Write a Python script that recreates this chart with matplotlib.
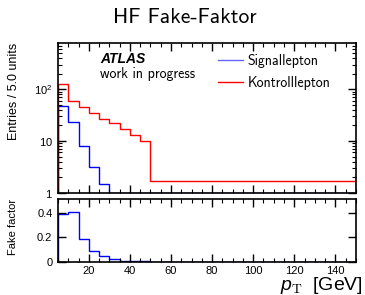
import numpy as np
import matplotlib
matplotlib.use('Agg')
import matplotlib.pyplot as plt  # noqa
import matplotlib.ticker as mticker

plt.rcParams['font.family'] = ['Liberation Sans', 'DejaVu Sans']
plt.rcParams['mathtext.fontset'] = 'custom'
plt.rcParams['mathtext.rm'] = 'cmr10'
plt.rcParams['mathtext.it'] = 'Liberation Sans:italic'
plt.rcParams['mathtext.sf'] = 'Liberation Sans'

COLOR_SIG = 'blue'
COLOR_CTRL = 'red'
SANS_TEX = 'cmss10'

# pT binning, 5 GeV wide bins
bin_edges = np.arange(5, 155, 5)

# entries per bin
signal = [47.5, 23.5, 8.1, 3.1, 1.5] + [0] * 24
control = [127, 60, 45, 35, 27, 22, 17, 13, 10] + [1.66] * 20
fake_factor = [0.39, 0.405, 0.188, 0.085, 0.052, 0.02, 0.008, 0.008, 0.008] + [0] * 20

legend_labels = ['Signallepton', 'Kontrolllepton']
ylog_ticks = [1, 10, 100]
ylog_labels = [r'$\mathsf{1}$', r'$\mathsf{10}$', r'$\mathsf{10}^{\mathsf{2}}$']
ratio_ticks = [0, 0.2, 0.4]
ratio_labels = ['0', '0.2', '0.4']

YMIN, YMAX = 1, 790


def style_axes(ax):
    for sp in ax.spines.values():
        sp.set_linewidth(1.2)
    ax.tick_params(which='both', direction='in', top=True, right=True,
                   labelsize=8, pad=4)
    ax.tick_params(which='major', length=6, width=1)
    ax.tick_params(which='minor', length=3, width=0.8)
    ax.xaxis.set_major_locator(mticker.MultipleLocator(20))
    ax.xaxis.set_minor_locator(mticker.MultipleLocator(5))


fig = plt.figure(figsize=(3.65, 2.95), dpi=100)
ax1 = fig.add_axes([0.159, 0.347, 0.816, 0.507])
ax2 = fig.add_axes([0.159, 0.112, 0.816, 0.213], sharex=ax1)

# upper panel: entries, log scale
ax1.set_yscale('log')
ax1.stairs(np.maximum(signal, YMIN), bin_edges, color=COLOR_SIG, lw=1.0,
           label=legend_labels[0])
ax1.stairs(control, bin_edges, color=COLOR_CTRL, lw=1.0, label=legend_labels[1])
ax1.set_xlim(5, 150)
ax1.set_ylim(YMIN, YMAX)
style_axes(ax1)
ax1.yaxis.set_major_locator(mticker.FixedLocator(ylog_ticks))
ax1.yaxis.set_major_formatter(mticker.FixedFormatter(ylog_labels))
ax1.yaxis.set_minor_locator(mticker.LogLocator(subs=np.arange(2, 10)))
ax1.yaxis.set_minor_formatter(mticker.NullFormatter())
ax1.tick_params(labelbottom=False)

# lower panel: fake factor
ax2.stairs(fake_factor, bin_edges, color=COLOR_SIG, lw=1.0)
ax2.set_ylim(0, 0.51)
style_axes(ax2)
ax2.yaxis.set_major_locator(mticker.FixedLocator(ratio_ticks))
ax2.yaxis.set_major_formatter(mticker.FixedFormatter(ratio_labels))
ax2.tick_params(axis='x', pad=3)

# legend
leg = ax1.legend(loc='upper left', bbox_to_anchor=(218 / 365, 1 - 54 / 295),
                 bbox_transform=fig.transFigure, frameon=False, borderpad=0,
                 borderaxespad=0, handlelength=1.8, handletextpad=0.35,
                 labelspacing=0.6, prop={'family': SANS_TEX, 'size': 10})
leg.get_lines()[0].set_alpha(0.6)

# labels
fig.text(0.505, 0.942, 'HF Fake-Faktor', family=SANS_TEX, fontsize=15.5,
         ha='center', va='center')
fig.text(100 / 365, 1 - 63 / 295, 'ATLAS', fontsize=10, weight='bold',
         style='italic', ha='left', va='baseline')
fig.text(100 / 365, 1 - 78 / 295, 'work in progress', family=SANS_TEX,
         fontsize=10, ha='left', va='baseline')
fig.text(14 / 365, 1 - 43 / 295, 'Entries / 5.0 units', fontsize=9,
         rotation=90, ha='center', va='top')
fig.text(13.5 / 365, 1 - 199 / 295, 'Fake factor', fontsize=8,
         rotation=90, ha='center', va='top')
fig.text(363 / 365, 1 - 290 / 295, r'$p_\mathrm{T}$  [GeV]', fontsize=14,
         ha='right', va='baseline')

plt.savefig('out.png', dpi=100)
plt.close()
